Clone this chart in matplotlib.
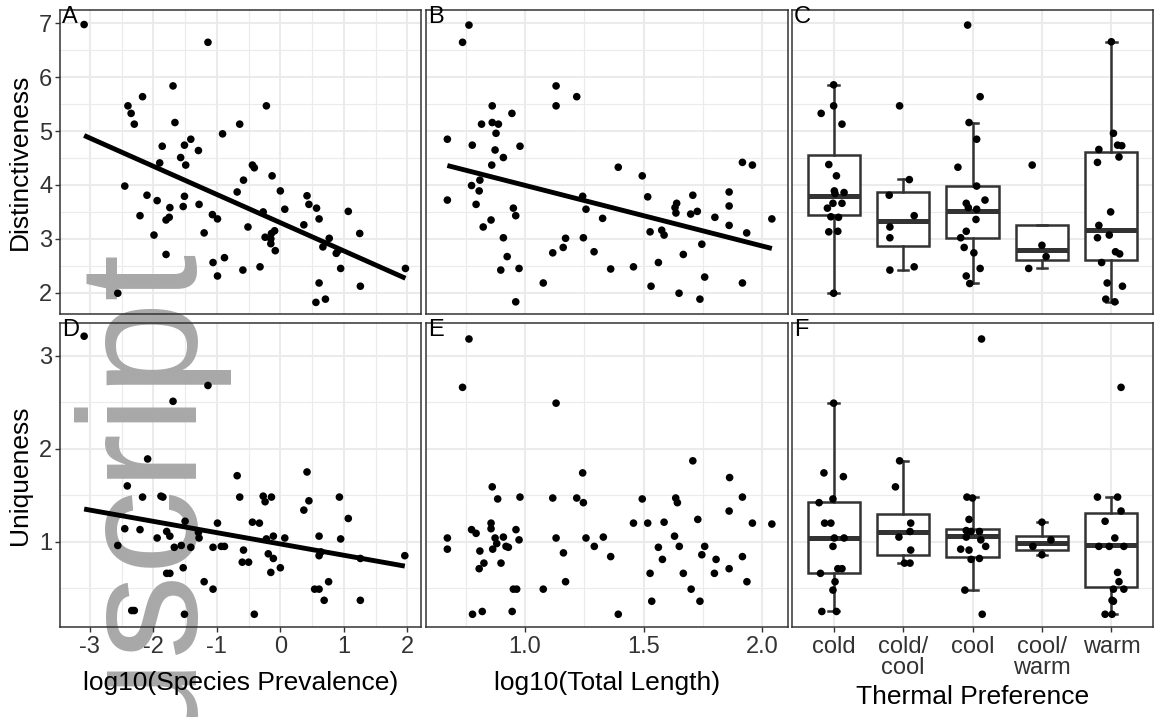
import matplotlib
matplotlib.use('Agg')
import matplotlib.pyplot as plt
from matplotlib.ticker import MultipleLocator, FixedLocator, NullLocator
import numpy as np

plt.rcParams['font.family'] = ['Liberation Sans', 'DejaVu Sans']
plt.rcParams['axes.unicode_minus'] = False

# ---------------- data ----------------
prev_A = [-3.09, -1.14, -1.69, -2.17, -2.40, -2.35, -2.30, -0.22, -1.66, -0.64,
          -0.91, -1.41, -1.51, -1.86, -1.29, -1.57, -1.49, -1.90, -0.44, -0.41,
          -0.58, -0.13, -2.45, -0.68, 0.00, -2.10, -1.51, 0.42, -1.94, -1.28,
          0.45, -1.74, -1.53, 0.07, 0.57, 1.07, -2.21, -1.07, -0.99, -1.75,
          -1.80, -0.27, 0.61, 0.37, -0.51, -1.99, -1.20, -0.09, -0.14, -0.24,
          1.25, 0.77, -0.15, 0.67, -0.08, 0.91, -1.80, -0.88, -1.06, -0.32,
          -0.59, 0.95, 1.97, -0.99, 0.61, 1.26, -2.56, 0.56, 0.71, -0.15, 0.88]
dist_A = [6.98, 6.65, 5.84, 5.64, 5.47, 5.33, 5.13, 5.47, 5.16, 5.13,
          4.95, 4.85, 4.74, 4.72, 4.64, 4.51, 4.37, 4.41, 4.37, 4.32,
          4.09, 4.17, 3.98, 3.87, 3.89, 3.81, 3.79, 3.80, 3.71, 3.64,
          3.64, 3.58, 3.60, 3.55, 3.57, 3.51, 3.43, 3.45, 3.37, 3.40,
          3.35, 3.50, 3.37, 3.26, 3.22, 3.07, 3.11, 3.15, 3.10, 3.03,
          3.10, 3.01, 2.91, 2.85, 2.78, 2.78, 2.71, 2.65, 2.56, 2.48,
          2.42, 2.45, 2.45, 2.31, 2.18, 2.12, 1.99, 1.82, 1.88, 3.00, 2.73]
fit_A = (-0.524, 3.30)   # slope, intercept

len_B = [0.764, 0.737, 1.131, 1.131, 1.218, 0.862, 0.945, 0.817, 0.862, 0.888,
         0.878, 0.673, 0.778, 0.979, 0.874, 0.909, 0.860, 1.393, 1.494, 1.916,
         1.958, 0.810, 0.775, 0.807, 0.673, 0.794, 1.243, 1.517, 1.707, 1.860,
         0.951, 0.961, 1.257, 1.639, 1.632, 1.636, 1.726, 1.698, 1.860, 0.857,
         0.824, 1.327, 1.800, 1.860, 2.040, 1.527, 1.576, 1.586, 1.934, 0.909,
         1.171, 1.161, 1.117, 1.246, 1.745, 0.925, 1.291, 1.667, 1.562, 0.898,
         0.975, 1.361, 1.457, 1.757, 1.077, 1.531, 1.916, 1.649, 1.737, 0.961]
dist_B = [6.97, 6.65, 5.84, 5.47, 5.64, 5.47, 5.33, 5.13, 5.16, 5.13,
          4.96, 4.85, 4.74, 4.72, 4.65, 4.51, 4.37, 4.33, 4.17, 4.42,
          4.37, 4.09, 3.99, 3.89, 3.72, 3.64, 3.79, 3.78, 3.81, 3.87,
          3.57, 3.43, 3.55, 3.66, 3.58, 3.48, 3.51, 3.46, 3.61, 3.35,
          3.22, 3.38, 3.40, 3.25, 3.37, 3.13, 3.16, 3.07, 3.11, 3.02,
          3.01, 2.84, 2.74, 3.02, 2.90, 2.67, 2.76, 2.71, 2.56, 2.42,
          2.45, 2.44, 2.48, 2.29, 2.18, 2.12, 2.18, 1.99, 1.88, 1.83]
fit_B = (-1.127, 5.12)

prev_D = [-3.09, -1.14, -1.69, -2.09, -2.41, -2.17, -1.88, -1.85, -0.68, -0.64,
          -0.27, -0.24, -0.14, 0.42, 0.45, 0.37, 0.93, 1.07, -2.45, -2.21,
          -1.94, -2.56, -1.79, -1.74, -1.50, -1.29, -1.28, -1.67, -1.56, -1.41,
          -0.99, -1.06, -0.93, -0.88, -0.44, -0.33, -0.58, -0.60, -0.50, -0.22,
          -0.11, -0.19, -0.11, -0.15, 0.00, 0.07, 0.61, 0.61, 0.64, 0.95,
          1.26, 1.96, -1.53, -1.79, -1.74, -1.20, -1.06, 0.54, 0.61, 0.76,
          0.69, 1.26, -2.34, -2.30, -1.51, -0.41]
uniq_D = [3.21, 2.68, 2.51, 1.89, 1.60, 1.48, 1.49, 1.48, 1.71, 1.48,
          1.49, 1.43, 1.48, 1.75, 1.44, 1.34, 1.48, 1.25, 1.14, 1.13,
          1.04, 0.96, 1.11, 1.06, 1.22, 1.10, 1.04, 0.94, 0.96, 0.94,
          1.20, 0.94, 0.95, 0.95, 1.21, 1.20, 0.91, 0.78, 0.78, 1.03,
          1.06, 0.87, 0.82, 0.67, 0.72, 1.04, 1.06, 0.85, 0.89, 1.03,
          0.82, 0.85, 0.72, 0.66, 0.66, 0.57, 0.49, 0.49, 0.49, 0.57,
          0.37, 0.37, 0.26, 0.26, 0.22, 0.22]
fit_D = (-0.1215, 0.976)

len_E = [0.764, 0.737, 1.131, 1.707, 1.862, 1.243, 0.862, 0.885, 0.979, 1.117,
         1.218, 1.246, 1.494, 1.635, 1.642, 1.916, 1.860, 1.457, 1.517, 1.586,
         1.728, 1.958, 2.040, 0.673, 0.673, 0.775, 0.794, 0.857, 0.857, 0.874,
         0.881, 0.864, 0.909, 0.920, 0.930, 0.962, 0.975, 0.810, 0.899, 0.827,
         0.807, 1.131, 1.162, 1.257, 1.292, 1.330, 1.361, 1.171, 1.077, 0.951,
         0.965, 0.946, 0.779, 0.820, 1.393, 1.562, 1.579, 1.527, 1.534, 1.630,
         1.650, 1.667, 1.700, 1.737, 1.745, 1.757, 1.805, 1.798, 1.860, 1.916, 1.935]
uniq_E = [3.18, 2.66, 2.49, 1.87, 1.69, 1.74, 1.59, 1.46, 1.48, 1.47,
          1.47, 1.42, 1.46, 1.47, 1.42, 1.48, 1.33, 1.20, 1.20, 1.21,
          1.24, 1.20, 1.19, 1.04, 0.92, 1.13, 1.09, 1.20, 1.14, 1.04,
          0.98, 0.92, 1.05, 0.95, 0.94, 1.13, 1.02, 0.90, 0.77, 0.77,
          0.71, 1.04, 0.88, 1.04, 0.95, 1.05, 0.84, 0.57, 0.49, 0.49,
          0.49, 0.25, 0.22, 0.25, 0.22, 0.94, 0.81, 0.66, 0.36, 1.06,
          0.95, 0.66, 0.49, 0.36, 0.86, 0.95, 0.81, 0.66, 0.71, 0.84, 0.57]

pref_labels = ['cold', 'cold/\ncool', 'cool', 'cool/\nwarm', 'warm']

# box statistics: q1, median, q3, lower whisker, upper whisker
dist_q1 = [3.44, 2.87, 3.02, 2.60, 2.60]
dist_med = [3.79, 3.33, 3.51, 2.79, 3.17]
dist_q3 = [4.56, 3.87, 3.99, 3.25, 4.62]
dist_lo = [1.99, 2.42, 2.18, 2.46, 1.83]
dist_hi = [5.86, 4.11, 5.16, 3.25, 6.66]

uniq_q1 = [0.66, 0.86, 0.84, 0.91, 0.51]
uniq_med = [1.04, 1.10, 1.06, 0.99, 0.96]
uniq_q3 = [1.43, 1.30, 1.14, 1.06, 1.31]
uniq_lo = [0.25, 0.77, 0.48, 0.86, 0.22]
uniq_hi = [2.49, 1.87, 1.48, 1.21, 1.48]

# jittered points per thermal preference group (values and jitter offsets)
dist_pts = [
    [5.86, 5.47, 5.33, 5.13, 4.38, 4.17, 3.89, 3.86, 3.84, 3.66, 3.66, 3.57, 3.41, 3.40, 3.13, 3.14, 1.99],
    [5.47, 4.10, 3.81, 3.43, 3.22, 3.02, 2.42, 2.48],
    [6.97, 5.64, 5.16, 4.85, 4.33, 3.98, 3.72, 3.66, 3.58, 3.55, 3.36, 3.14, 3.02, 2.84, 2.74, 2.45, 2.31, 2.17],
    [4.37, 2.88, 2.67, 2.45],
    [6.66, 4.96, 4.74, 4.73, 4.52, 4.66, 4.42, 3.50, 3.25, 3.07, 3.02, 2.76, 2.72, 2.56, 2.18, 2.12, 1.88, 1.83],
]
dist_jit = [
    [0, 0, -0.18, 0.12, -0.07, 0.04, 0.01, 0.15, 0.02, -0.01, 0.12, -0.09, -0.04, 0.07, -0.07, 0.06, 0],
    [-0.05, 0.09, -0.20, 0.16, -0.19, -0.19, -0.19, 0.16],
    [-0.07, 0.11, -0.05, 0.06, -0.21, 0.06, 0.18, -0.09, -0.06, 0.06, 0.05, -0.09, -0.17, -0.12, 0.02, 0.11, -0.09, -0.04],
    [-0.14, 0, 0.06, -0.19],
    [0, 0.03, 0.09, 0.15, 0.11, -0.18, -0.20, -0.01, -0.18, -0.03, -0.20, 0.06, 0.12, -0.14, -0.06, 0.16, -0.08, 0.05],
]
uniq_pts = [
    [2.49, 1.74, 1.70, 1.46, 1.42, 1.20, 1.20, 1.04, 1.04, 0.95, 0.66, 0.71, 0.71, 0.57, 0.48, 0.25, 0.25],
    [1.87, 1.59, 1.20, 1.05, 1.11, 0.91, 0.77, 0.77],
    [3.18, 1.48, 1.47, 1.24, 1.12, 1.11, 1.11, 1.05, 1.02, 0.95, 0.92, 0.91, 0.82, 0.81, 0.48, 0.22],
    [1.21, 1.02, 0.95, 0.86],
    [2.66, 1.48, 1.48, 1.33, 1.22, 1.04, 0.95, 0.95, 0.95, 0.67, 0.57, 0.49, 0.49, 0.37, 0.36, 0.22, 0.22],
]
uniq_jit = [
    [0, -0.14, 0.14, -0.01, -0.21, -0.13, -0.04, 0.01, 0.15, -0.01, -0.19, 0.12, 0.06, 0.02, -0.01, -0.17, 0.04],
    [-0.05, -0.11, 0.11, -0.06, 0.10, 0.11, 0.02, 0.10],
    [0.13, -0.08, 0, -0.05, -0.09, -0.02, 0.10, -0.09, 0.12, 0.19, -0.17, -0.05, 0.10, -0.02, -0.11, 0.14],
    [0, 0.13, -0.13, 0],
    [0.14, -0.20, 0.09, 0.14, -0.09, 0.05, -0.18, -0.03, 0.18, 0.09, 0.11, 0.18, 0.03, 0.01, 0.03, -0.09, 0.01],
]

# ---------------- layout ----------------
W, H = 1159, 717
fig = plt.figure(figsize=(W / 100, H / 100), dpi=100)
fig.patch.set_facecolor('white')

TICK_FS = 17
TITLE_FS = 19
TICK_COL = '#333333'
FRAME = '#333333'
GRID = '#EBEBEB'
PT_S = 30

XL_PREV = (-3.47, 2.215)
XL_LEN = (0.583, 2.108)
XL_CAT = (0.4, 5.6)
YL_DIST = (1.604, 7.25)
YL_UNIQ = (0.083, 3.352)


def make_panel(name, px, xlim, ylim, xmaj, xmin_, ymaj, ymin_, show_x, show_y, cat=False):
    x0, y0, x1, y1 = px
    rect = [x0 / W, 1 - y1 / H, (x1 - x0) / W, (y1 - y0) / H]
    bg = fig.add_axes(rect, zorder=0, label='bg' + name)
    bg.set_facecolor('white')
    bg.set_xlim(xlim)
    bg.set_ylim(ylim)
    if cat:
        bg.xaxis.set_major_locator(FixedLocator([1, 2, 3, 4, 5]))
        bg.xaxis.set_minor_locator(NullLocator())
    else:
        bg.xaxis.set_major_locator(MultipleLocator(xmaj))
        bg.xaxis.set_minor_locator(MultipleLocator(xmin_))
    bg.yaxis.set_major_locator(MultipleLocator(ymaj))
    bg.yaxis.set_minor_locator(MultipleLocator(ymin_))
    bg.grid(which='major', color=GRID, lw=1.5)
    bg.grid(which='minor', color=GRID, lw=0.8)
    bg.tick_params(which='both', length=0, labelbottom=False, labelleft=False)
    for s in bg.spines.values():
        s.set_visible(False)

    ax = fig.add_axes(rect, zorder=2, label='fg' + name)
    ax.set_facecolor('none')
    ax.set_xlim(xlim)
    ax.set_ylim(ylim)
    if cat:
        ax.xaxis.set_major_locator(FixedLocator([1, 2, 3, 4, 5]))
    else:
        ax.xaxis.set_major_locator(MultipleLocator(xmaj))
    ax.yaxis.set_major_locator(MultipleLocator(ymaj))
    ax.xaxis.set_minor_locator(NullLocator())
    ax.yaxis.set_minor_locator(NullLocator())
    for s in ax.spines.values():
        s.set_color(FRAME)
        s.set_linewidth(1.1)
    ax.tick_params(axis='x', bottom=show_x, labelbottom=show_x, length=3.5, width=1.0,
                   color=FRAME, labelsize=TICK_FS, labelcolor=TICK_COL, pad=3)
    ax.tick_params(axis='y', left=show_y, labelleft=show_y, length=3.5, width=1.0,
                   color=FRAME, labelsize=TICK_FS, labelcolor=TICK_COL, pad=2)
    ax.text(0.006, 1.012, name, transform=ax.transAxes, ha='left', va='top',
            fontsize=TICK_FS, color='black', zorder=5)
    return ax


axA = make_panel('A', (60, 10, 421, 314), XL_PREV, YL_DIST, 1, 0.5, 1, 0.5, False, True)
axB = make_panel('B', (426, 10, 788, 314), XL_LEN, YL_DIST, 0.5, 0.25, 1, 0.5, False, False)
axC = make_panel('C', (792, 10, 1153, 314), XL_CAT, YL_DIST, 1, 1, 1, 0.5, False, False, cat=True)
axD = make_panel('D', (60, 323, 421, 627), XL_PREV, YL_UNIQ, 1, 0.5, 1, 0.5, True, True)
axE = make_panel('E', (426, 323, 788, 627), XL_LEN, YL_UNIQ, 0.5, 0.25, 1, 0.5, True, False)
axF = make_panel('F', (792, 323, 1153, 627), XL_CAT, YL_UNIQ, 1, 1, 1, 0.5, True, False, cat=True)

# watermark (behind data, above grid)
fig.text(186 / W, 1 - 742 / H, 'uscript', rotation=90, rotation_mode='anchor',
         ha='left', va='baseline', fontsize=122, color='#A8A8A8', zorder=1)


def scatter_fit(ax, x, y, fit):
    ax.scatter(x, y, s=PT_S, color='black', edgecolors='none', zorder=3)
    if fit is not None:
        xs = np.array([min(x), max(x)])
        ax.plot(xs, fit[0] * xs + fit[1], color='black', lw=3.5, solid_capstyle='butt', zorder=4)


scatter_fit(axA, prev_A, dist_A, fit_A)
scatter_fit(axB, len_B, dist_B, fit_B)
scatter_fit(axD, prev_D, uniq_D, fit_D)
scatter_fit(axE, len_E, uniq_E, None)


def boxes(ax, q1, med, q3, lo, hi, pts, jit):
    stats = []
    for i in range(5):
        stats.append(dict(q1=q1[i], med=med[i], q3=q3[i], whislo=lo[i], whishi=hi[i], fliers=[]))
    ax.bxp(stats, positions=[1, 2, 3, 4, 5], widths=0.75, showfliers=False, patch_artist=True,
           capwidths=0.15,
           boxprops=dict(facecolor='white', edgecolor=FRAME, lw=1.8),
           medianprops=dict(color=FRAME, lw=3.6, solid_capstyle='butt'),
           whiskerprops=dict(color=FRAME, lw=1.8),
           capprops=dict(color=FRAME, lw=1.8),
           manage_ticks=False)
    for i in range(5):
        xs = [i + 1 + j for j in jit[i]]
        ax.scatter(xs, pts[i], s=PT_S, color='black', edgecolors='none', zorder=4)


boxes(axC, dist_q1, dist_med, dist_q3, dist_lo, dist_hi, dist_pts, dist_jit)
boxes(axF, uniq_q1, uniq_med, uniq_q3, uniq_lo, uniq_hi, uniq_pts, uniq_jit)

axF.set_xticks([1, 2, 3, 4, 5])
axF.set_xticklabels(pref_labels)
for lbl in axF.get_xticklabels():
    lbl.set_linespacing(0.95)

axA.set_ylabel('Distinctiveness', fontsize=TITLE_FS, labelpad=5)
axD.set_ylabel('Uniqueness', fontsize=TITLE_FS, labelpad=5)
axD.set_xlabel('log10(Species Prevalence)', fontsize=TITLE_FS, labelpad=9)
axE.set_xlabel('log10(Total Length)', fontsize=TITLE_FS, labelpad=9)
axF.set_xlabel('Thermal Preference', fontsize=TITLE_FS, labelpad=4)

fig.savefig('out.png', dpi=100, facecolor='white')
